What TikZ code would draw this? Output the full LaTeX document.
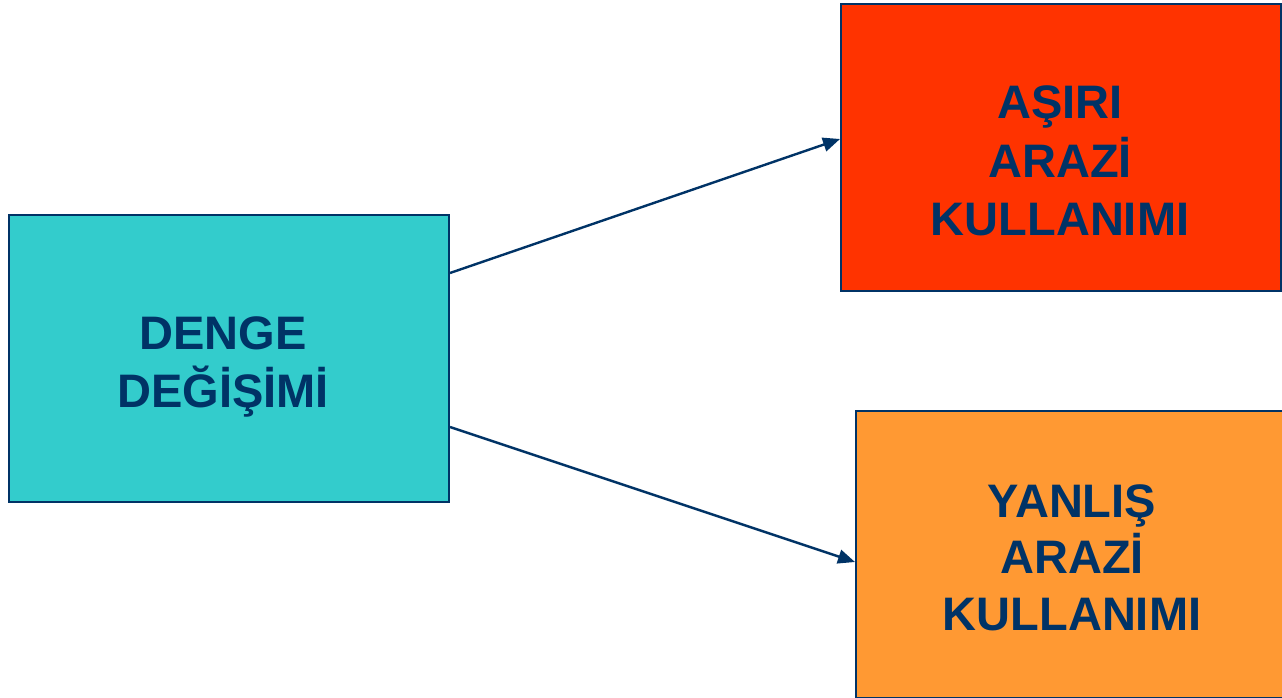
\documentclass[tikz,border=0pt]{standalone}
\usepackage{fontspec}
\setmainfont{Liberation Sans}
\usetikzlibrary{arrows.meta,calc}
\definecolor{navy}{HTML}{003366}
\definecolor{teal1}{HTML}{33CCCC}
\definecolor{red1}{HTML}{FF3300}
\definecolor{orange1}{HTML}{FF9933}
\begin{document}
\begin{tikzpicture}[x=1pt,y=-1pt,
  boxstyle/.style={draw=navy,line width=2pt,minimum width=440pt,minimum height=287pt,inner sep=0pt,anchor=north west},
  lbl/.style={text=navy,font=\fontsize{47}{58}\selectfont\bfseries,anchor=base,inner sep=0pt},
  conn/.style={draw=navy,line width=2.4pt,-{Triangle[length=17pt,width=14pt]}}]
\clip (0,0) rectangle (1282,698);
\fill[white] (0,0) rectangle (1282,698);
\node[boxstyle,fill=teal1] (denge) at (8,214) {};
\node[boxstyle,fill=red1] (asiri) at (840,3) {};
\node[boxstyle,fill=orange1] (yanlis) at (855,410) {};
\node[lbl] (d1) at (223,349) {DENGE};
\node[lbl] (d2) at (223,407) {DEĞİŞİMİ};
\node[lbl] (a1) at (1060,119) {AŞIRI};
\node[lbl] (a2) at (1060,177) {ARAZİ};
\node[lbl] (a3) at (1060,235) {KULLANIMI};
\node[lbl] (y1) at (1072,517) {YANLIŞ};
\node[lbl] (y2) at (1072,573) {ARAZİ};
\node[lbl] (y3) at (1072,630) {KULLANIMI};
\coordinate (s1) at ($(denge.north east)+(0,59)$);
\coordinate (s2) at ($(denge.north east)+(0,213)$);
\coordinate (e1) at ($(asiri.north west)+(0,136)$);
\coordinate (e2) at ($(yanlis.north west)+(0,152)$);
\draw[conn] (s1) -- (e1);
\draw[conn] (s2) -- (e2);
\end{tikzpicture}
\end{document}
